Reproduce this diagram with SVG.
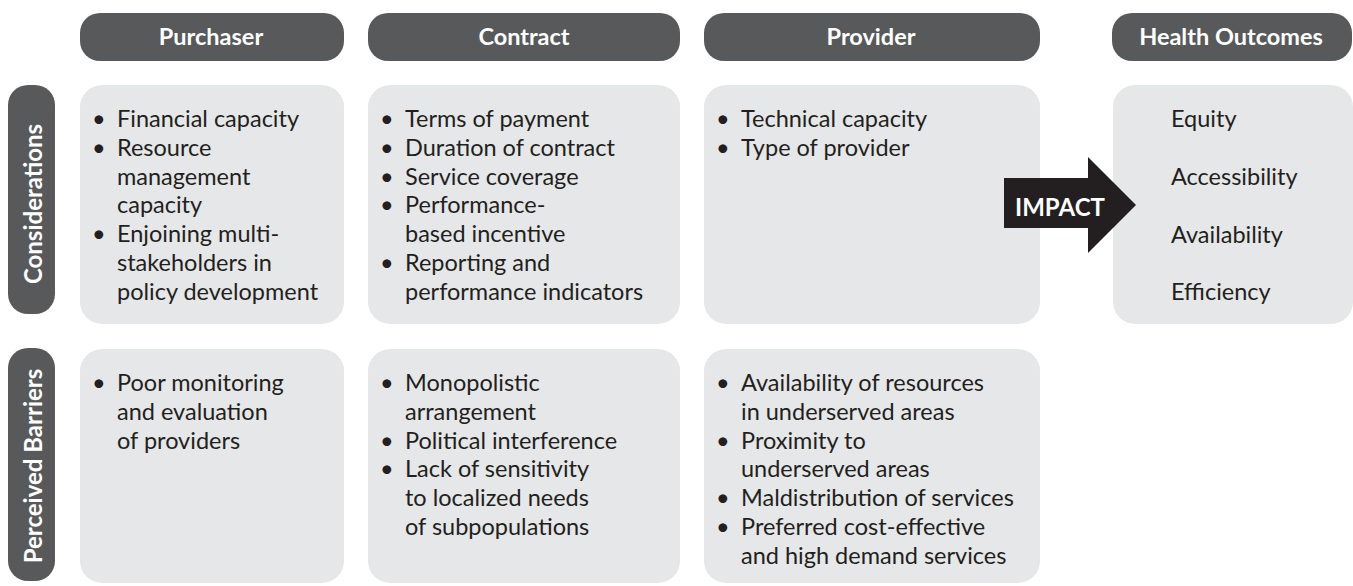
<svg xmlns="http://www.w3.org/2000/svg" width="1353" height="586" viewBox="0 0 1353 586">
<style>
.pill{fill:#58595b}
.box{fill:#e6e7e8}
.hd{font-family:Lato,"Liberation Sans",sans-serif;font-weight:bold;font-size:23.5px;fill:#ffffff;text-anchor:middle}
.sd{font-family:Lato,"Liberation Sans",sans-serif;font-weight:bold;font-size:24px;fill:#ffffff;text-anchor:middle}
.tx{font-family:Lato,"Liberation Sans",sans-serif;font-size:23.5px;fill:#231f20}
.imp{font-family:Lato,"Liberation Sans",sans-serif;font-weight:bold;font-size:24px;fill:#ffffff;text-anchor:middle}
</style>
<rect width="1353" height="586" fill="#ffffff"/>
<g id="hdr-purchaser"><rect class="pill" x="80" y="13" width="264" height="48" rx="20"/><text class="hd" x="211" y="45">Purchaser</text></g>
<g id="hdr-contract"><rect class="pill" x="368" y="13" width="312" height="48" rx="20"/><text class="hd" x="524" y="45">Contract</text></g>
<g id="hdr-provider"><rect class="pill" x="704" y="13" width="336" height="48" rx="20"/><text class="hd" x="871" y="45">Provider</text></g>
<g id="hdr-outcomes"><rect class="pill" x="1112" y="13" width="240" height="48" rx="20"/><text class="hd" x="1231" y="45">Health Outcomes</text></g>
<g id="side-considerations"><rect class="pill" x="8" y="85" width="47" height="229" rx="20"/><text class="sd" transform="translate(42,204) rotate(-90)">Considerations</text></g>
<g id="side-barriers"><rect class="pill" x="8" y="348" width="47" height="233" rx="20"/><text class="sd" transform="translate(42,466) rotate(-90)">Perceived Barriers</text></g>
<g id="cons-purchaser"><rect class="box" x="80" y="85" width="264" height="239" rx="22"/>
<text class="tx"><tspan x="92" y="127">•</tspan><tspan x="117" y="127">Financial capacity</tspan><tspan x="92" y="155.8">•</tspan><tspan x="117" y="155.8">Resource</tspan><tspan x="117" y="184.6">management</tspan><tspan x="117" y="213.4">capacity</tspan><tspan x="92" y="242.2">•</tspan><tspan x="117" y="242.2">Enjoining multi-</tspan><tspan x="117" y="271">stakeholders in</tspan><tspan x="117" y="299.8">policy development</tspan></text></g>
<g id="cons-contract"><rect class="box" x="368" y="85" width="312" height="239" rx="22"/>
<text class="tx"><tspan x="380" y="127">•</tspan><tspan x="405" y="127">Terms of payment</tspan><tspan x="380" y="155.8">•</tspan><tspan x="405" y="155.8">Duration of contract</tspan><tspan x="380" y="184.6">•</tspan><tspan x="405" y="184.6">Service coverage</tspan><tspan x="380" y="213.4">•</tspan><tspan x="405" y="213.4">Performance-</tspan><tspan x="405" y="242.2">based incentive</tspan><tspan x="380" y="271">•</tspan><tspan x="405" y="271">Reporting and</tspan><tspan x="405" y="299.8">performance indicators</tspan></text></g>
<g id="cons-provider"><rect class="box" x="704" y="85" width="336" height="239" rx="22"/>
<text class="tx"><tspan x="716" y="127">•</tspan><tspan x="741" y="127">Technical capacity</tspan><tspan x="716" y="155.8">•</tspan><tspan x="741" y="155.8">Type of provider</tspan></text></g>
<g id="outcomes"><rect class="box" x="1113" y="85" width="240" height="239" rx="22"/>
<text class="tx"><tspan x="1171" y="127">Equity</tspan><tspan x="1171" y="185">Accessibility</tspan><tspan x="1171" y="243">Availability</tspan><tspan x="1171" y="300">Efficiency</tspan></text></g>
<g id="bar-purchaser"><rect class="box" x="80" y="349" width="264" height="234" rx="22"/>
<text class="tx"><tspan x="92" y="391">•</tspan><tspan x="117" y="391">Poor monitoring</tspan><tspan x="117" y="419.8">and evaluation</tspan><tspan x="117" y="448.6">of providers</tspan></text></g>
<g id="bar-contract"><rect class="box" x="368" y="349" width="312" height="234" rx="22"/>
<text class="tx"><tspan x="380" y="391">•</tspan><tspan x="405" y="391">Monopolistic</tspan><tspan x="405" y="419.8">arrangement</tspan><tspan x="380" y="448.6">•</tspan><tspan x="405" y="448.6">Political interference</tspan><tspan x="380" y="477.4">•</tspan><tspan x="405" y="477.4">Lack of sensitivity</tspan><tspan x="405" y="506.2">to localized needs</tspan><tspan x="405" y="535">of subpopulations</tspan></text></g>
<g id="bar-provider"><rect class="box" x="704" y="349" width="336" height="234" rx="22"/>
<text class="tx"><tspan x="716" y="391">•</tspan><tspan x="741" y="391">Availability of resources</tspan><tspan x="741" y="419.8">in underserved areas</tspan><tspan x="716" y="448.6">•</tspan><tspan x="741" y="448.6">Proximity to</tspan><tspan x="741" y="477.4">underserved areas</tspan><tspan x="716" y="506.2">•</tspan><tspan x="741" y="506.2">Maldistribution of services</tspan><tspan x="716" y="535">•</tspan><tspan x="741" y="535">Preferred cost-effective</tspan><tspan x="741" y="563.8">and high demand services</tspan></text></g>
<g id="connectors"><g id="impact-arrow"><polygon points="1004,178 1088,178 1088,157 1136,205 1088,253 1088,228 1004,228" fill="#231f20"/><text class="imp" x="1060" y="216">IMPACT</text></g></g>
</svg>
